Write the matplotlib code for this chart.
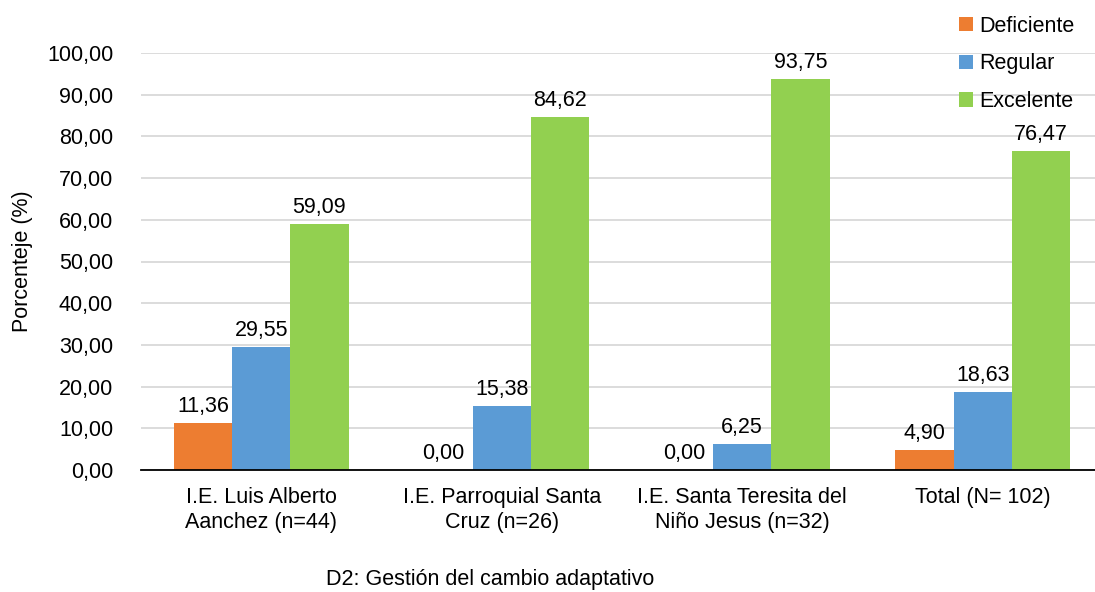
import numpy as np
import matplotlib.pyplot as plt

plt.rcParams['font.family'] = ['Liberation Sans', 'DejaVu Sans']

categories = ["I.E. Luis Alberto\nAanchez (n=44)",
              "I.E. Parroquial Santa\nCruz (n=26)",
              "I.E. Santa Teresita del\nNiño Jesus (n=32)",
              "Total (N= 102)"]
deficiente = [11.36, 0.00, 0.00, 4.90]
regular = [29.55, 15.38, 6.25, 18.63]
excelente = [59.09, 84.62, 93.75, 76.47]
series_names = ["Deficiente", "Regular", "Excelente"]
colors = ["#ED7D31", "#5B9BD5", "#92D050"]

W, H = 1095, 592
FS = 15.5
fig = plt.figure(figsize=(W / 100, H / 100), dpi=100)
ax = fig.add_axes([141 / W, (H - 470) / H, 962 / W, (470 - 53) / H])

x = np.arange(len(categories))
bw = 0.242
for i, (vals, name, col) in enumerate(zip([deficiente, regular, excelente], series_names, colors)):
    pos = x + (i - 1) * bw
    ax.bar(pos, vals, bw, color=col, label=name, zorder=2)
    for p, v in zip(pos, vals):
        ax.text(p, v + 1.4, f"{v:.2f}".replace(".", ","), ha='center', va='bottom',
                fontsize=FS, color='#000000')

ax.set_xlim(-0.5, len(categories) - 0.5)
ax.set_ylim(0, 100)
ax.set_yticks(np.arange(0, 101, 10))
ax.set_yticklabels([f"{t:.2f}".replace(".", ",") for t in np.arange(0, 101, 10)], fontsize=FS)
ax.set_xticks(x)
ax.set_xticklabels(categories, fontsize=FS, linespacing=1.3)
ax.tick_params(axis='y', length=0, pad=20)
ax.tick_params(axis='x', length=0, pad=12)
ax.grid(axis='y', color='#D9D9D9', linewidth=1.3, zorder=0)
for s in ['top', 'right', 'left']:
    ax.spines[s].set_visible(False)
ax.spines['bottom'].set_color('#000000')
ax.spines['bottom'].set_linewidth(1.3)
ax.spines['bottom'].set_zorder(3)

ax.set_ylabel("Porcenteje (%)", fontsize=FS)
ax.yaxis.set_label_coords((33 - 141) / 962, 0.5)
fig.text(490 / W, 1 - 579 / H, "D2: Gestión del cambio adaptativo", ha='center', va='center', fontsize=FS)

fig.legend(loc='upper left', bbox_to_anchor=(950 / W, 1 - 7 / H), frameon=False, fontsize=FS,
           handlelength=0.65, handleheight=0.65, handletextpad=0.3, labelspacing=0.78,
           borderaxespad=0)

fig.savefig("out.png", dpi=100)
